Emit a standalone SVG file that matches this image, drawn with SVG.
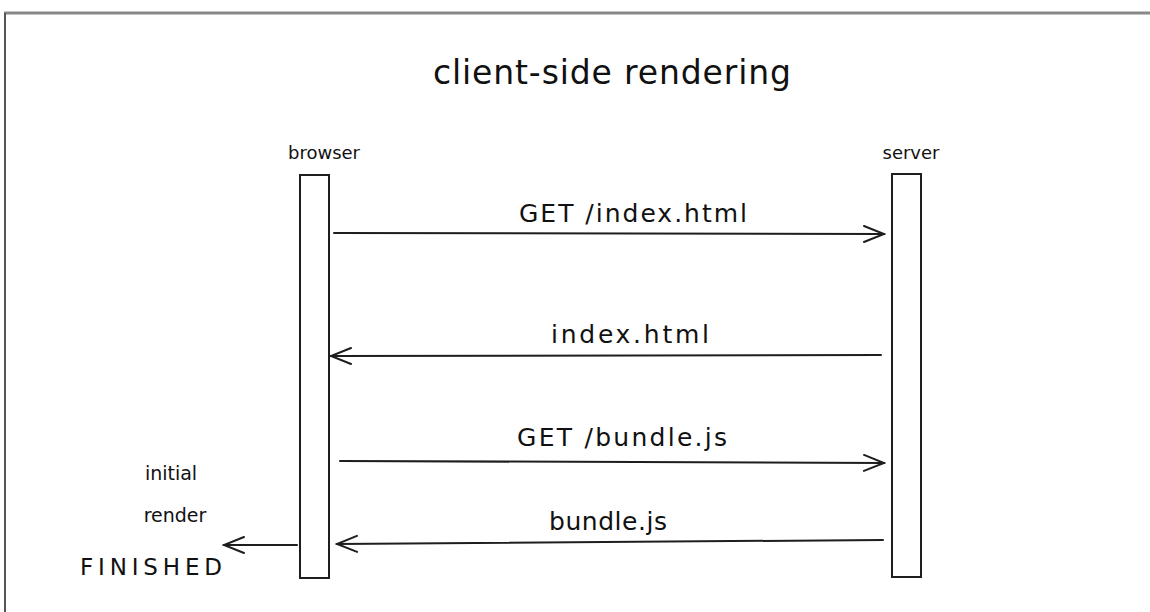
<svg xmlns="http://www.w3.org/2000/svg" width="1150" height="612" viewBox="0 0 1150 612">
<style>
.ln{stroke:#1e1e1e;stroke-width:2;fill:none;stroke-linecap:round;stroke-linejoin:round}
.box{stroke:#1e1e1e;stroke-width:2;fill:#ffffff}
.t{font-family:"DejaVu Sans","Liberation Sans",Arial,sans-serif;fill:#111111}
.lbl{font-size:25px;text-anchor:middle}
</style>
<defs>
<marker id="ah" viewBox="0 0 24 20" refX="22" refY="10" markerWidth="24" markerHeight="20" markerUnits="userSpaceOnUse" orient="auto">
<path d="M2,2 L22,10 L2,18" fill="none" stroke="#1e1e1e" stroke-width="2" stroke-linecap="round"/>
</marker>
</defs>
<rect width="1150" height="612" fill="#ffffff"/>
<g id="frame">
<line x1="4" y1="13" x2="1150" y2="13" stroke="#888" stroke-width="3"/>
<line x1="5" y1="13" x2="5" y2="612" stroke="#555" stroke-width="2"/>
</g>
<text class="t" x="612" y="84" font-size="33" text-anchor="middle" textLength="358">client-side rendering</text>
<g id="browser">
<text class="t" x="324" y="159" font-size="18" text-anchor="middle">browser</text>
<rect class="box" x="300" y="175" width="29" height="403"/>
</g>
<g id="server">
<text class="t" x="911" y="159" font-size="18" text-anchor="middle">server</text>
<rect class="box" x="892" y="174" width="29" height="403"/>
</g>
<g id="connectors">
<line class="ln" x1="334" y1="233" x2="884" y2="234" marker-end="url(#ah)"/>
<line class="ln" x1="881" y1="355" x2="331" y2="356" marker-end="url(#ah)"/>
<line class="ln" x1="340" y1="461" x2="884" y2="463" marker-end="url(#ah)"/>
<line class="ln" x1="883" y1="540" x2="337" y2="544" marker-end="url(#ah)"/>
<line class="ln" x1="297" y1="545" x2="224" y2="545" marker-end="url(#ah)"/>
</g>
<g id="labels">
<text class="t lbl" x="633" y="222" textLength="228">GET /index.html</text>
<text class="t lbl" x="630" y="343" textLength="158">index.html</text>
<text class="t lbl" x="622" y="446" textLength="210">GET /bundle.js</text>
<text class="t lbl" x="608" y="530" textLength="118">bundle.js</text>
</g>
<g id="note">
<text class="t" x="171" y="480" font-size="19" text-anchor="middle">initial</text>
<text class="t" x="175" y="522" font-size="19" text-anchor="middle">render</text>
<text class="t" x="151" y="575" font-size="23" text-anchor="middle" textLength="142">FINISHED</text>
</g>
</svg>
